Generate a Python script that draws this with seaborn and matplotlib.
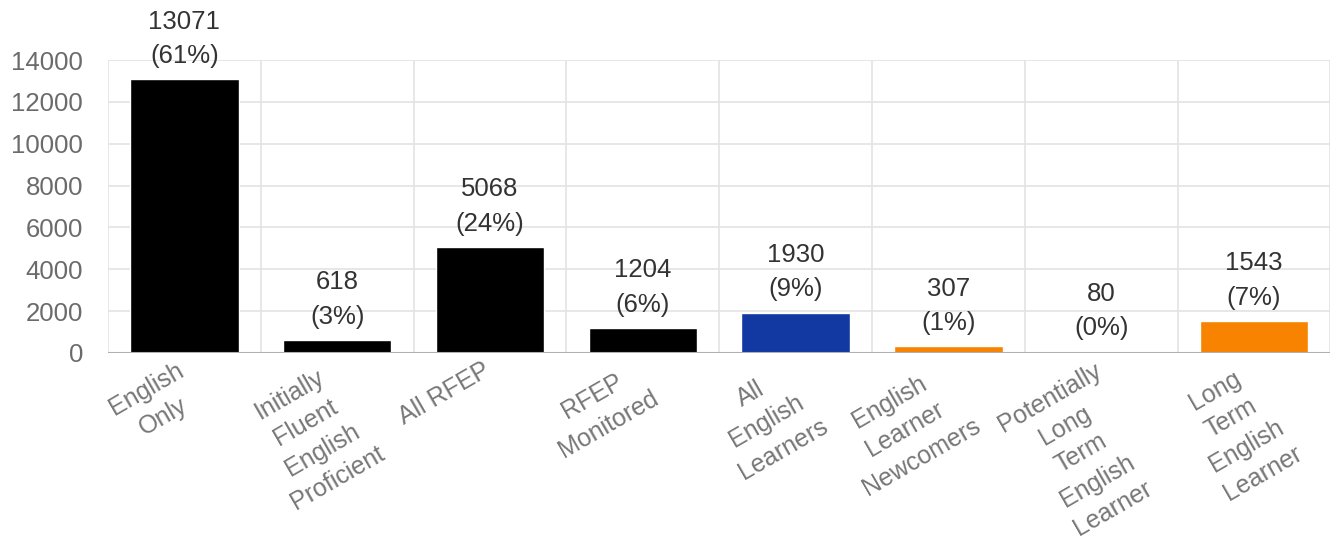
import matplotlib
matplotlib.use("Agg")
import matplotlib.pyplot as plt
import matplotlib.transforms as mtransforms
import seaborn as sns
import pandas as pd

# datos del grafico
categorias = ["English\nOnly", "Initially\nFluent\nEnglish\nProficient", "All RFEP",
              "RFEP\nMonitored", "All\nEnglish\nLearners", "English\nLearner\nNewcomers",
              "Potentially\nLong\nTerm\nEnglish\nLearner", "Long\nTerm\nEnglish\nLearner"]
valores = [13071, 618, 5068, 1204, 1930, 307, 80, 1543]
porcentajes = ["61%", "3%", "24%", "6%", "9%", "1%", "0%", "7%"]
colores = ["#000000", "#000000", "#000000", "#000000", "#1238a2", "#f78300", "#f78300", "#f78300"]

df = pd.DataFrame({"cat": categorias, "val": valores})

sns.set_style("white")
plt.rcParams["font.family"] = ["Liberation Sans", "DejaVu Sans"]

fig = plt.figure(figsize=(13.33, 5.48), dpi=100)
ax = fig.add_axes([0.081, 0.356, 0.917, 0.5345])

sns.barplot(data=df, x="cat", y="val", hue="cat", palette=colores, legend=False,
            width=0.71, saturation=1, ax=ax)

ax.set_ylim(0, 14000)
ax.set_xlim(-0.5, len(categorias) - 0.5)
ax.set_yticks(range(0, 14001, 2000))
ax.set_xlabel("")
ax.set_ylabel("")

# lineas horizontales
ax.grid(axis="y", color="#e3e3e3", linewidth=1.2)
ax.set_axisbelow(True)
ax.axhline(0, color="#b0b0b0", linewidth=1.5, zorder=3)
for s in ax.spines.values():
    s.set_visible(False)

# separadores verticales entre categorias
ax.set_xticks([i - 0.5 for i in range(len(categorias) + 1)], minor=True)
ax.grid(axis="x", which="minor", color="#e3e3e3", linewidth=1.2)
ax.tick_params(axis="x", which="minor", direction="out", length=16, width=1.2, color="#e3e3e3")
ax.tick_params(axis="x", which="major", length=0, pad=4)
ax.tick_params(axis="y", direction="out", length=17, width=1.2, color="#e3e3e3",
               labelsize=18.5, labelcolor="#6b6b6b", pad=1)

ax.set_xticks(range(len(categorias)))
ax.set_xticklabels(categorias, rotation=30, ha="right", rotation_mode="anchor",
                   multialignment="center", fontsize=18, color="#777777", linespacing=1.42)
desplazar = mtransforms.ScaledTranslation(-8 / 100, 0, fig.dpi_scale_trans)
for lab in ax.get_xticklabels():
    lab.set_transform(lab.get_transform() + desplazar)

# etiquetas encima de las barras
for i, (v, p) in enumerate(zip(valores, porcentajes)):
    ax.annotate(f"{v}\n({p})", (i, v), xytext=(0, 8), textcoords="offset points",
                ha="center", va="bottom", fontsize=18.5, color="#333333",
                linespacing=1.55, annotation_clip=False)

fig.savefig("out.png", dpi=100)
